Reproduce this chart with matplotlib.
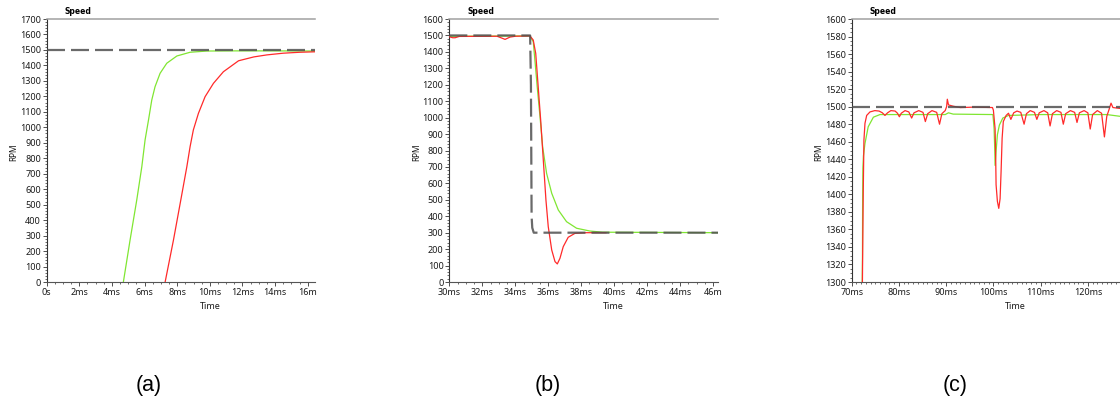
import numpy as np
import matplotlib
matplotlib.use("Agg")
import matplotlib.pyplot as plt
from matplotlib.ticker import AutoMinorLocator

plt.rcParams['font.family'] = ['Noto Sans', 'DejaVu Sans']

# ---- panel (a): start-up to 1500 rpm ----
a_ref_t = [0.0, 16.45]
a_ref_v = [1500, 1500]
a_green_t = [4.70, 5.11, 5.52, 5.83, 6.03, 6.24, 6.44, 6.64, 6.95, 7.36, 7.98, 8.79, 9.82, 11.5, 13.5, 16.45]
a_green_v = [0, 271, 530, 745, 918, 1047, 1176, 1262, 1349, 1414, 1461, 1485, 1493, 1494, 1494, 1493]
a_red_t = [7.26, 7.77, 8.22, 8.59, 8.79, 8.99, 9.30, 9.71, 10.22, 10.83, 11.76, 12.7, 13.5, 14.5, 15.5, 16.45]
a_red_v = [0, 271, 530, 745, 875, 983, 1090, 1198, 1284, 1359, 1430, 1455, 1468, 1479, 1485, 1488]

# ---- panel (b): step 1500 -> 300 rpm ----
b_ref_t = [30.0, 34.90, 34.95, 34.99, 35.03, 35.12, 46.3]
b_ref_v = [1500, 1500, 1200, 400, 330, 300, 300]
b_green_t = [30.0, 34.89, 35.09, 35.19, 35.33, 35.50, 35.66, 35.90, 36.21, 36.61, 37.11, 37.72, 38.53, 39.3, 46.3]
b_green_v = [1495, 1497, 1462, 1351, 1188, 1006, 823, 661, 540, 438, 367, 327, 310, 303, 300]
b_red_t = [30.0, 30.2, 30.35, 30.6, 32.9, 33.18, 33.38, 33.68, 34.0, 34.89, 35.09, 35.24, 35.39, 35.54,
           35.70, 35.86, 36.0, 36.21, 36.41, 36.55, 36.71, 36.91, 37.21, 37.62, 38.3, 39.5]
b_red_v = [1492, 1486, 1486, 1494, 1495, 1484, 1476, 1490, 1495, 1497, 1472, 1391, 1188, 986,
           742, 499, 337, 195, 124, 110, 144, 215, 272, 296, 300, 300]

# ---- panel (c): 1500 rpm with load steps ----
c_ref_t = [70.0, 126.8]
c_ref_v = [1500, 1500]
c_green_t = [72.22, 72.29, 72.33, 72.38, 72.5, 72.82, 73.5, 74.6, 76.0, 89.8, 90.5, 91.5, 99.9,
             100.15, 100.3, 100.36, 100.57, 100.85, 101.27, 101.99, 103.2, 110.0, 124.0, 126.8]
c_green_v = [1290, 1330, 1400, 1430, 1444, 1458, 1477, 1488, 1491, 1491, 1493, 1491.5, 1491,
             1475, 1449, 1433, 1449, 1468, 1479, 1487, 1490, 1491, 1491, 1489]
c_red_t = [72.28, 72.33, 72.46, 72.60, 72.82, 73.18, 73.88, 74.9, 75.8, 76.5, 77.05, 77.6, 78.3,
           79.2, 79.7, 80.1, 80.5, 81.3, 82.1, 82.7, 83.2, 84.2, 85.1, 85.6, 86.1, 87.0, 88.0,
           88.6, 89.1, 89.8, 90.1, 90.25, 90.5, 91.5, 93.0, 96.0, 99.8, 100.0, 100.36, 100.5,
           100.57, 100.85, 101.14, 101.42, 101.63, 101.85, 102.1, 102.7, 103.2, 103.7, 104.3,
           105.0, 105.8, 106.5, 107.0, 107.8, 108.7, 109.2, 109.7, 110.7, 111.5, 112.0, 112.5,
           113.4, 114.3, 114.8, 115.3, 116.3, 117.2, 117.7, 118.2, 119.2, 120.0, 120.5, 121.0,
           122.0, 122.9, 123.5, 124.0, 124.5, 124.9, 125.3, 126.8]
c_red_v = [1300, 1331, 1405, 1462, 1481, 1490, 1494, 1495.5, 1495, 1493, 1490, 1493, 1495.5,
           1495, 1492.5, 1488.5, 1492.5, 1495.5, 1494, 1487, 1493, 1495.5, 1493.5, 1483, 1492, 1495.5, 1493.5,
           1480, 1492, 1495.5, 1500, 1508.5, 1502, 1500.5, 1499, 1499.5, 1499, 1496, 1475, 1437,
           1411, 1392, 1384, 1395, 1426, 1464, 1483, 1490, 1492.5, 1485.5, 1493,
           1495, 1493.5, 1480, 1492, 1495.5, 1493.5, 1485.5, 1493, 1495.5, 1493, 1478, 1492,
           1495.5, 1493.5, 1480, 1492, 1495.5, 1493.5, 1482, 1493, 1495.5, 1493, 1474.5, 1491,
           1495.5, 1492.5, 1465.5, 1489, 1497, 1504, 1499, 1498]

a_xticks = [0, 2, 4, 6, 8, 10, 12, 14, 16]
a_xlabels = ['0s', '2ms', '4ms', '6ms', '8ms', '10ms', '12ms', '14ms', '16m']
b_xticks = [30, 32, 34, 36, 38, 40, 42, 44, 46]
b_xlabels = ['30ms', '32ms', '34ms', '36ms', '38ms', '40ms', '42ms', '44ms', '46m']
c_xticks = [70, 80, 90, 100, 110, 120]
c_xlabels = ['70ms', '80ms', '90ms', '100ms', '110ms', '120ms']

GREEN = '#80e632'
RED = '#ff2a2a'
REF = '#505050'

fig = plt.figure(figsize=(11.2, 4.0), dpi=100)

panels = [
    (0.0417, (0.0, 16.45), (0, 1700), 100, a_xticks, a_xlabels, 4, 5,
     (a_ref_t, a_ref_v), (a_green_t, a_green_v), (a_red_t, a_red_v), '(a)', 0.133),
    (0.4012, (30.0, 46.28), (0, 1600), 100, b_xticks, b_xlabels, 4, 5,
     (b_ref_t, b_ref_v), (b_green_t, b_green_v), (b_red_t, b_red_v), '(b)', 0.489),
    (0.7604, (70.0, 126.8), (1300, 1600), 20, c_xticks, c_xlabels, 10, 4,
     (c_ref_t, c_ref_v), (c_green_t, c_green_v), (c_red_t, c_red_v), '(c)', 0.853),
]

for (left, xlim, ylim, ystep, xt, xl, xminor, yminor,
     ref, green, red, cap, capx) in panels:
    ax = fig.add_axes([left, 0.295, 0.2396, 0.6575])
    ax.plot(green[0], green[1], color=GREEN, lw=0.9, zorder=2)
    ax.plot(red[0], red[1], color=RED, lw=0.9, zorder=3)
    ax.plot(ref[0], ref[1], color=REF, lw=1.6, alpha=0.85,
            dashes=(8.1, 2.7), zorder=4)
    ax.set_xlim(*xlim)
    ax.set_ylim(*ylim)
    ax.set_xticks(xt)
    ax.set_xticklabels(xl)
    ax.set_yticks(np.arange(ylim[0], ylim[1] + 1, ystep))
    ax.xaxis.set_minor_locator(AutoMinorLocator(xminor))
    ax.yaxis.set_minor_locator(AutoMinorLocator(yminor))
    ax.tick_params(which='major', length=3, width=0.6, color='#333333',
                   labelsize=6.5, pad=1.2, labelcolor='#1a1a1a')
    ax.tick_params(which='minor', length=1.6, width=0.5, color='#333333')
    ax.spines['right'].set_visible(False)
    ax.spines['top'].set_color('#a0a0a0')
    ax.spines['top'].set_linewidth(1.1)
    ax.spines['left'].set_color('#333333')
    ax.spines['left'].set_linewidth(0.8)
    ax.spines['bottom'].set_color('#555555')
    ax.spines['bottom'].set_linewidth(0.8)
    ax.set_xlabel('Time', fontsize=6.5, color='#1a1a1a')
    ax.xaxis.set_label_coords(0.61, -0.076)
    ax.set_ylabel('RPM', fontsize=6, color='#1a1a1a')
    ax.yaxis.set_label_coords(-0.106, 0.495)
    ax.text(0.117, 1.027, 'Speed', transform=ax.transAxes, fontsize=5.5,
            family='DejaVu Sans', fontweight='bold', ha='center', va='center')
    fig.text(capx, 0.0375, cap, fontsize=15.5, family='Liberation Sans',
             ha='center', va='center')

fig.savefig('out.png', dpi=100, facecolor='white')
